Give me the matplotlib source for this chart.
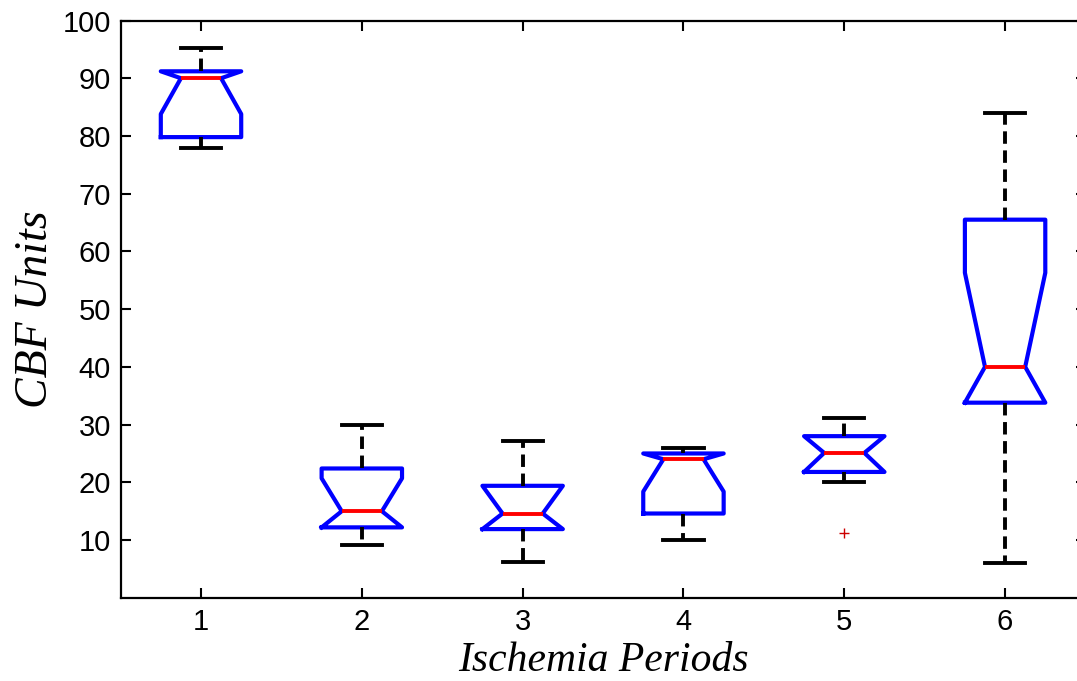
import matplotlib
matplotlib.use("Agg")
import matplotlib.pyplot as plt

# box statistics (CBF units)
periods = [1, 2, 3, 4, 5, 6]
whislo = [78.0, 9.1, 6.2, 10.0, 20.1, 6.1]
q1 = [79.8, 12.2, 11.9, 14.6, 21.8, 33.8]
cilo = [83.8, 12.2, 11.9, 18.4, 21.8, 33.8]
med = [90.0, 15.0, 14.6, 24.0, 25.1, 40.0]
cihi = [91.2, 20.7, 19.4, 25.0, 28.0, 56.3]
q3 = [91.2, 22.4, 19.4, 25.0, 28.0, 65.5]
whishi = [95.2, 30.0, 27.1, 26.0, 31.1, 84.0]
fliers = [[], [], [], [], [11.2], []]

stats = []
for i in range(len(periods)):
    stats.append({
        "whislo": whislo[i], "q1": q1[i], "med": med[i], "q3": q3[i],
        "whishi": whishi[i], "cilo": cilo[i], "cihi": cihi[i],
        "fliers": fliers[i], "label": str(periods[i]),
    })

fig = plt.figure(figsize=(10.77, 6.81), dpi=100)
ax = fig.add_axes([120.6 / 1077, 1 - 597.8 / 681, (1085.5 - 120.6) / 1077, (597.8 - 20.5) / 681])

ax.bxp(stats, positions=periods, widths=0.5, shownotches=True,
       boxprops=dict(color="#0000ff", linewidth=3.0),
       medianprops=dict(color="#ff0000", linewidth=2.8),
       whiskerprops=dict(color="black", linewidth=2.8, linestyle=(0, (3.2, 1.7))),
       capprops=dict(color="black", linewidth=2.8),
       flierprops=dict(marker="+", markeredgecolor="#cc0000", markersize=7, markeredgewidth=1))

ax.set_xlim(0.5, 6.5)
ax.set_ylim(0, 100)
ax.set_yticks(range(10, 101, 10))
ax.set_xticks(periods)
ax.set_xticklabels([str(p) for p in periods])

for s in ax.spines.values():
    s.set_linewidth(1.6)
ax.tick_params(direction="in", length=7, width=1.5, top=True, right=True,
               labelsize=21, pad=7)
for lab in ax.get_xticklabels() + ax.get_yticklabels():
    lab.set_fontfamily("Liberation Sans")

ax.set_xlabel("Ischemia Periods", fontfamily="Liberation Serif", fontstyle="italic",
              fontsize=30, labelpad=4)
ax.set_ylabel("CBF Units", fontfamily="Liberation Serif", fontstyle="italic",
              fontsize=33, labelpad=4)

fig.savefig("out.png", dpi=100)
